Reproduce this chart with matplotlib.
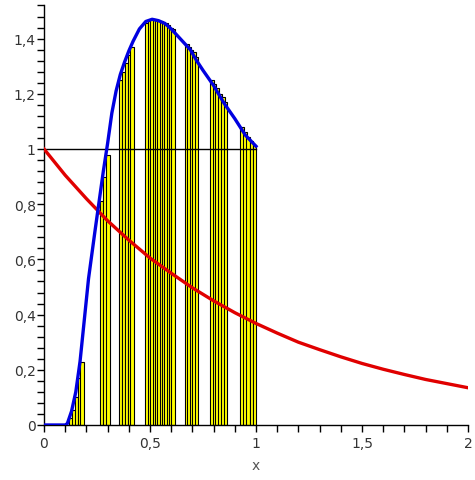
import numpy as np
import matplotlib
matplotlib.use('Agg')
from matplotlib import pyplot as plt
from matplotlib.ticker import MultipleLocator, FuncFormatter

# blue density curve
blue_x = [0, 0.10, 0.11, 0.13, 0.15, 0.17, 0.19, 0.21, 0.24, 0.26, 0.28, 0.30, 0.32, 0.34,
          0.36, 0.38, 0.40, 0.42, 0.45, 0.48, 0.51, 0.54, 0.57, 0.60, 0.63, 0.66, 0.69,
          0.72, 0.75, 0.80, 0.85, 0.90, 0.95, 1.0]
blue_y = [0, 0, 0.005, 0.05, 0.12, 0.23, 0.38, 0.53, 0.70, 0.81, 0.92, 1.02, 1.13, 1.21,
          1.27, 1.315, 1.355, 1.39, 1.435, 1.462, 1.47, 1.465, 1.455, 1.435, 1.41, 1.385,
          1.36, 1.32, 1.285, 1.23, 1.165, 1.11, 1.05, 1.01]

# red curve
red_x = [0, 0.1, 0.2, 0.3, 0.4, 0.5, 0.6, 0.7, 0.8, 0.9, 1.0, 1.1, 1.2, 1.3, 1.4, 1.5,
         1.6, 1.7, 1.8, 1.9, 2.0]
red_y = [1.0, 0.905, 0.82, 0.74, 0.67, 0.605, 0.55, 0.497, 0.45, 0.407, 0.368, 0.333,
         0.30, 0.273, 0.247, 0.223, 0.202, 0.183, 0.165, 0.15, 0.135]

# yellow bars: left edges and heights
bar_x = [0.120, 0.132, 0.145, 0.160, 0.172,
         0.262, 0.278, 0.292,
         0.352, 0.366, 0.380, 0.394, 0.408,
         0.478, 0.490, 0.500, 0.512, 0.522, 0.535, 0.546, 0.556, 0.566, 0.578, 0.590, 0.600,
         0.665, 0.676, 0.688, 0.700, 0.710,
         0.783, 0.795, 0.808, 0.822, 0.836, 0.848,
         0.925, 0.940, 0.955, 0.970, 0.985]
bar_h = [0.025, 0.055, 0.10, 0.17, 0.23,
         0.81, 0.90, 0.98,
         1.25, 1.28, 1.31, 1.34, 1.37,
         1.455, 1.465, 1.47, 1.47, 1.468, 1.465, 1.463, 1.46, 1.456, 1.45, 1.44, 1.435,
         1.38, 1.37, 1.36, 1.35, 1.335,
         1.25, 1.235, 1.22, 1.20, 1.19, 1.17,
         1.08, 1.06, 1.045, 1.03, 1.015]
bar_w = 0.017

fig = plt.figure(figsize=(4.75, 4.81), dpi=100)
ax = fig.add_axes([44 / 475, 55 / 481, 424 / 475, 420 / 481])

ax.bar(bar_x, bar_h, width=bar_w, align='edge', color='#ffff00', edgecolor='black',
       linewidth=0.8, zorder=1)
ax.plot([0, 1], [1, 1], color='black', linewidth=1, zorder=2)
ax.plot(red_x, red_y, color='#e00000', linewidth=2.4, zorder=3)
ax.plot(blue_x, blue_y, color='#0000e0', linewidth=2.4, zorder=4)

ax.set_xlim(0, 2)
ax.set_ylim(0, 420 / 276)
for s in ['top', 'right']:
    ax.spines[s].set_visible(False)
for s in ['left', 'bottom']:
    ax.spines[s].set_linewidth(1)

comma = FuncFormatter(lambda v, p: ('%g' % round(v, 2)).replace('.', ','))
ax.xaxis.set_major_locator(MultipleLocator(0.5))
ax.xaxis.set_minor_locator(MultipleLocator(0.1))
ax.yaxis.set_major_locator(MultipleLocator(0.2))
ax.yaxis.set_minor_locator(MultipleLocator(0.04))
ax.xaxis.set_major_formatter(comma)
ax.yaxis.set_major_formatter(comma)
ax.tick_params(which='both', length=5, width=1, labelsize=10, color='black',
               labelcolor='#333333')
ax.tick_params(axis='y', pad=1)
ax.tick_params(axis='x', pad=3)
ax.set_xlabel('x', fontsize=10, color='#555555', labelpad=6)

fig.savefig('out.png', dpi=100)
